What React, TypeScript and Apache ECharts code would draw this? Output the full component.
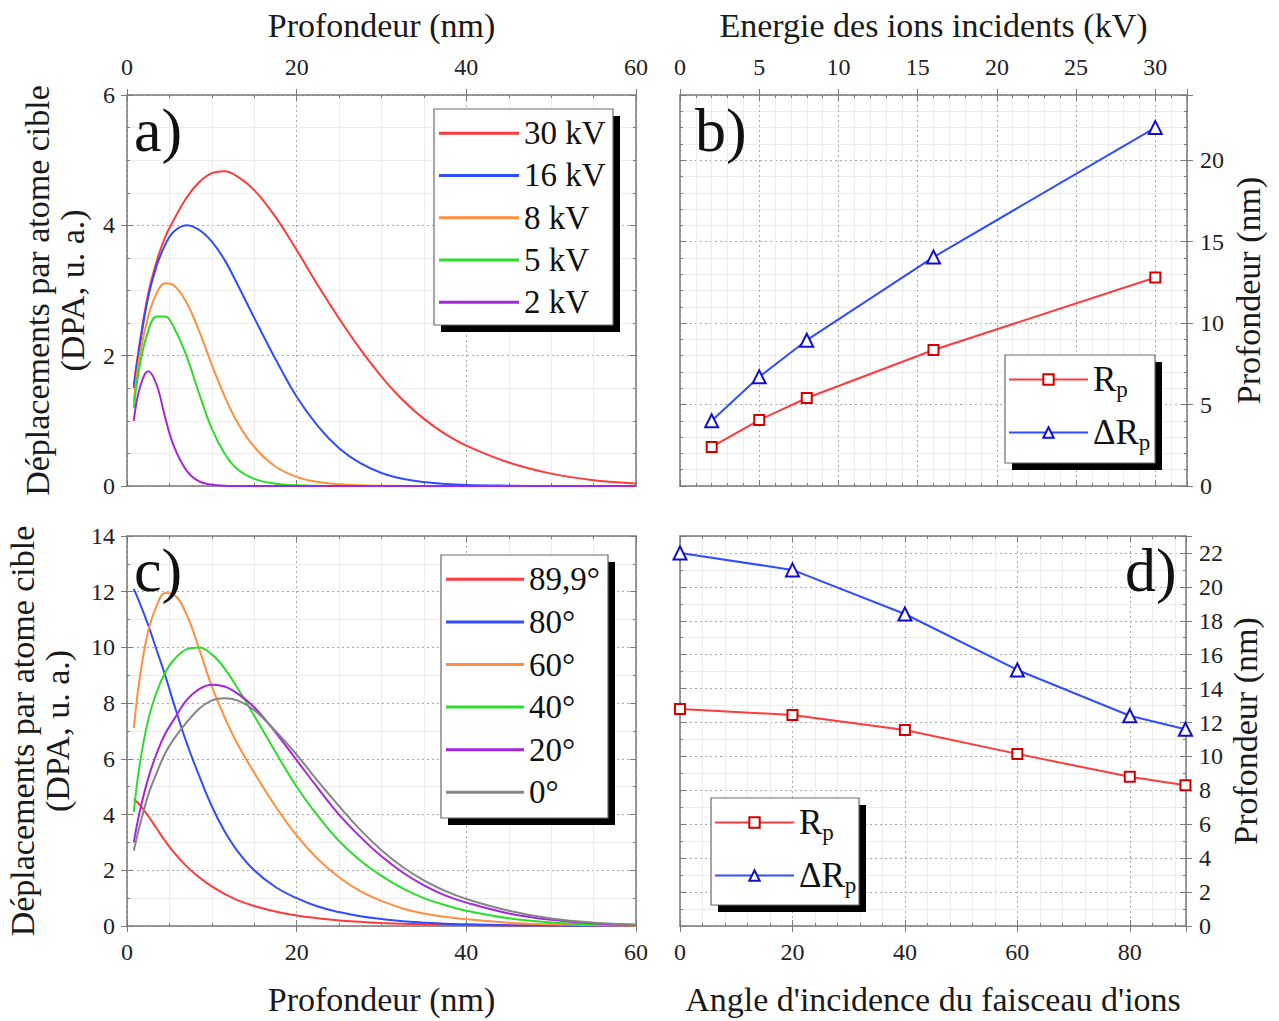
import React, { useEffect, useRef } from "react";
import * as echarts from "echarts";

// ---------- DATA ----------
const depth = [0.8, 1.5, 2.5, 3.5, 4.5, 5.5, 7, 8.5, 10, 11.5, 13, 15, 17.5, 20, 22.5, 25, 27.5, 30, 32.5, 35, 37.5, 40, 45, 50, 55, 60];

// panel a) energies
const dpa30kV = [1.55, 2.2, 2.95, 3.45, 3.82, 4.08, 4.42, 4.66, 4.8, 4.83, 4.75, 4.54, 4.13, 3.62, 3.08, 2.57, 2.1, 1.68, 1.32, 1.03, 0.8, 0.62, 0.36, 0.19, 0.09, 0.04];
const dpa16kV = [1.5, 2.15, 2.9, 3.38, 3.7, 3.9, 4.0, 3.93, 3.75, 3.47, 3.1, 2.58, 1.95, 1.37, 0.92, 0.58, 0.35, 0.2, 0.11, 0.06, 0.03, 0.015, 0.005, 0, 0, 0];
const dpa8kV = [1.3, 2.0, 2.6, 2.96, 3.11, 3.08, 2.82, 2.38, 1.86, 1.38, 0.98, 0.6, 0.3, 0.14, 0.06, 0.025, 0.01, 0.004, 0, 0, 0, 0, 0, 0, 0, 0];
const dpa5kV = [1.2, 1.85, 2.38, 2.6, 2.6, 2.44, 2.0, 1.42, 0.88, 0.5, 0.26, 0.11, 0.035, 0.01, 0.003, 0, 0, 0, 0, 0, 0, 0, 0, 0, 0, 0];
const dpa2kV = [1.0, 1.5, 1.76, 1.55, 1.05, 0.62, 0.24, 0.07, 0.02, 0.005, 0, 0, 0, 0, 0, 0, 0, 0, 0, 0, 0, 0, 0, 0, 0, 0];

// panel c) angles
const dpa89 = [4.55, 4.35, 3.95, 3.5, 3.05, 2.65, 2.15, 1.75, 1.42, 1.15, 0.93, 0.72, 0.52, 0.38, 0.28, 0.2, 0.15, 0.11, 0.08, 0.06, 0.045, 0.035, 0.02, 0.01, 0.005, 0.003];
const dpa80 = [12.1, 11.6, 10.8, 9.9, 9.0, 8.0, 6.6, 5.4, 4.3, 3.4, 2.7, 2.0, 1.4, 1.0, 0.7, 0.5, 0.35, 0.25, 0.17, 0.12, 0.08, 0.06, 0.03, 0.015, 0.01, 0.005];
const dpa60 = [7.1, 8.9, 10.6, 11.5, 11.95, 11.9, 11.2, 9.95, 8.6, 7.5, 6.55, 5.5, 4.3, 3.25, 2.4, 1.75, 1.25, 0.9, 0.63, 0.45, 0.33, 0.24, 0.12, 0.06, 0.03, 0.01];
const dpa40 = [4.1, 5.8, 7.4, 8.4, 9.1, 9.55, 9.93, 10.0, 9.75, 9.25, 8.55, 7.55, 6.25, 5.0, 3.95, 3.05, 2.35, 1.8, 1.35, 1.0, 0.75, 0.55, 0.28, 0.13, 0.06, 0.03];
const dpa20 = [3.0, 4.1, 5.3, 6.2, 6.9, 7.4, 8.1, 8.5, 8.66, 8.6, 8.35, 7.85, 6.95, 5.95, 4.95, 4.0, 3.2, 2.5, 1.92, 1.46, 1.1, 0.84, 0.45, 0.22, 0.1, 0.04];
const dpa0 = [2.7, 3.6, 4.7, 5.5, 6.2, 6.7, 7.3, 7.8, 8.1, 8.18, 8.1, 7.75, 7.0, 6.15, 5.2, 4.3, 3.45, 2.72, 2.12, 1.64, 1.26, 0.97, 0.55, 0.27, 0.12, 0.05];

// panel b)
const energies = [2, 5, 8, 16, 30];
const rpEnergy = [2.4, 4.05, 5.4, 8.35, 12.8];
const drpEnergy = [4.0, 6.7, 8.95, 14.05, 22.0];

// panel d)
const angles = [0, 20, 40, 60, 80, 89.9];
const rpAngle = [12.8, 12.45, 11.56, 10.15, 8.8, 8.3];
const drpAngle = [22.0, 21.0, 18.4, 15.1, 12.4, 11.6];

const energyNames = ["30 kV", "16 kV", "8 kV", "5 kV", "2 kV"];
const angleNames = ["89,9°", "80°", "60°", "40°", "20°", "0°"];

// ---------- STYLE ----------
const FONT = '"Liberation Serif", "Times New Roman", serif';
const RED = "#ff3a3a";
const BLUE = "#2f4dff";
const ORANGE = "#ff8f3f";
const GREEN = "#2bdc2b";
const PURPLE = "#a526dc";
const GRAY = "#858585";

const zip = (xs: number[], ys: number[]) => xs.map((x, i) => [x, ys[i]]);

const axisLineStyle = { color: "#7a7a7a", width: 1.5 };
const tickStyle = { color: "#7a7a7a", width: 1 };
const gridMajor = { color: "#a8a8a8", width: 1, type: [2, 3] as any };
const gridMinor = { color: "#ececec", width: 1 };
const labelStyle = { fontFamily: FONT, fontSize: 24, color: "#222" };
const titleStyle = { fontFamily: FONT, fontSize: 34, color: "#1a1a1a", lineHeight: 35 };

const OPP: any = { top: "bottom", bottom: "top", left: "right", right: "left" };

// returns [labelled axis, inner ticks axis, opposite frame axis]
function axisSet(o: any) {
  const base = { type: "value", gridIndex: o.grid, min: o.min, max: o.max, interval: o.interval };
  const main = {
    ...base,
    position: o.position,
    name: o.name,
    nameLocation: "middle",
    nameGap: o.nameGap,
    nameTextStyle: titleStyle,
    axisLine: { show: true, onZero: false, lineStyle: axisLineStyle },
    axisTick: { show: true, inside: false, length: 6, lineStyle: tickStyle },
    minorTick: { show: false, splitNumber: o.minor },
    axisLabel: {
      ...labelStyle,
      margin: o.margin,
      formatter: (v: number) => (o.labelStep && Math.round(v * 1000) % Math.round(o.labelStep * 1000) !== 0 ? "" : String(v)),
    },
    splitLine: { show: true, lineStyle: gridMajor },
    minorSplitLine: { show: true, lineStyle: gridMinor },
  };
  const inner = {
    ...base,
    position: o.position,
    axisLine: { show: false, onZero: false },
    axisTick: { show: true, inside: true, length: 6, lineStyle: tickStyle },
    minorTick: { show: true, splitNumber: o.minor, length: 3, lineStyle: tickStyle },
    axisLabel: { show: false },
    splitLine: { show: false },
    minorSplitLine: { show: false },
  };
  const frame = {
    ...base,
    position: OPP[o.position],
    axisLine: { show: true, onZero: false, lineStyle: axisLineStyle },
    axisTick: { show: true, inside: true, length: 6, lineStyle: tickStyle },
    minorTick: { show: true, splitNumber: o.minor, length: 3, lineStyle: tickStyle },
    axisLabel: { show: false },
    splitLine: { show: false },
    minorSplitLine: { show: false },
  };
  return [main, inner, frame];
}

function curve(name: string, color: string, data: number[], gi: number) {
  return {
    type: "line",
    name,
    xAxisIndex: gi * 3,
    yAxisIndex: gi * 3,
    data: zip(depth, data),
    smooth: 0.4,
    symbol: "none",
    lineStyle: { color, width: 2 },
    itemStyle: { color },
    z: 3,
  };
}

function points(name: string, lineColor: string, markColor: string, symbol: string, size: number, xs: number[], ys: number[], gi: number) {
  return {
    type: "line",
    name,
    xAxisIndex: gi * 3,
    yAxisIndex: gi * 3,
    data: zip(xs, ys),
    symbol,
    symbolSize: size,
    showSymbol: true,
    lineStyle: { color: lineColor, width: 2 },
    itemStyle: { color: markColor, borderColor: markColor, borderWidth: 2 },
    clip: false,
    z: 3,
  };
}

const subRich = {
  m: { fontFamily: FONT, fontSize: 35, color: "#111" },
  s: { fontFamily: FONT, fontSize: 23, color: "#111", padding: [20, 0, 0, 0] },
};
const rpFormatter = (name: string) => (name === "Rp" ? "{m|R}{s|p}" : "{m|ΔR}{s|p}");

function legendBox(x: number, y: number, w: number, h: number) {
  return [
    { type: "rect", z: 14, shape: { x: x + 7, y: y + 7, width: w, height: h }, style: { fill: "#000" } },
    { type: "rect", z: 15, shape: { x, y, width: w, height: h }, style: { fill: "#fff", stroke: "#6a6a6a", lineWidth: 1.2 } },
  ];
}

function panelLabel(text: string, x: number, y: number) {
  return {
    type: "text",
    z: 16,
    x,
    y,
    style: { text, font: `62px ${FONT}`, fill: "#111", textVerticalAlign: "middle" },
  };
}

export default function App() {
  const ref = useRef<HTMLDivElement>(null);

  useEffect(() => {
    if (!ref.current) return;
    const chart = echarts.init(ref.current, undefined, { renderer: "svg" });

    const option: any = {
      animation: false,
      backgroundColor: "#fff",
      grid: [
        { left: 127, top: 95, width: 509, height: 391 },
        { left: 680, top: 95, width: 507, height: 391 },
        { left: 127, top: 536, width: 509, height: 390 },
        { left: 680, top: 536, width: 506, height: 390 },
      ],
      xAxis: [
        ...axisSet({ grid: 0, position: "top", min: 0, max: 60, interval: 20, minor: 4, margin: 16, name: "Profondeur (nm)", nameGap: 52 }),
        ...axisSet({ grid: 1, position: "top", min: 0, max: 32, interval: 5, minor: 5, margin: 16, labelStep: 5, name: "Energie des ions incidents (kV)", nameGap: 52 }),
        ...axisSet({ grid: 2, position: "bottom", min: 0, max: 60, interval: 20, minor: 4, margin: 14, name: "Profondeur (nm)", nameGap: 56 }),
        ...axisSet({ grid: 3, position: "bottom", min: 0, max: 90, interval: 20, minor: 5, margin: 14, labelStep: 20, name: "Angle d'incidence du faisceau d'ions", nameGap: 56 }),
      ],
      yAxis: [
        ...axisSet({ grid: 0, position: "left", min: 0, max: 6, interval: 2, minor: 4, margin: 12, name: "Déplacements par atome cible\n(DPA, u. a.)", nameGap: 37 }),
        ...axisSet({ grid: 1, position: "right", min: 0, max: 24, interval: 5, minor: 5, margin: 13, labelStep: 5, name: "Profondeur (nm)", nameGap: 44 }),
        ...axisSet({ grid: 2, position: "left", min: 0, max: 14, interval: 2, minor: 2, margin: 12, name: "Déplacements par atome cible\n(DPA, u. a.)", nameGap: 52 }),
        ...axisSet({ grid: 3, position: "right", min: 0, max: 23, interval: 2, minor: 2, margin: 13, labelStep: 2, name: "Profondeur (nm)", nameGap: 42 }),
      ],
      legend: [
        {
          data: energyNames, orient: "vertical", left: 439, top: 112, itemGap: 0, itemWidth: 80, itemHeight: 3, icon: "rect", padding: 0,
          selectedMode: false, z: 20,
          textStyle: { fontFamily: FONT, fontSize: 33, color: "#111", lineHeight: 42.3 },
        },
        {
          data: angleNames, orient: "vertical", left: 446, top: 558, itemGap: 0, itemWidth: 78, itemHeight: 3, icon: "rect", padding: 0,
          selectedMode: false, z: 20,
          textStyle: { fontFamily: FONT, fontSize: 33, color: "#111", lineHeight: 42.6 },
        },
        {
          data: ["Rp", "ΔRp"], orient: "vertical", left: 1008, top: 353, itemGap: 0, itemWidth: 79, itemHeight: 13, padding: 0,
          selectedMode: false, z: 20, formatter: rpFormatter,
          textStyle: { fontFamily: FONT, fontSize: 35, color: "#111", lineHeight: 53, rich: subRich },
        },
        {
          data: ["Rp", "ΔRp"], orient: "vertical", left: 714, top: 796, itemGap: 0, itemWidth: 79, itemHeight: 13, padding: 0,
          selectedMode: false, z: 20, formatter: rpFormatter,
          textStyle: { fontFamily: FONT, fontSize: 35, color: "#111", lineHeight: 53, rich: subRich },
        },
      ],
      graphic: [
        ...legendBox(434, 109, 179, 216),
        ...legendBox(441, 555, 167, 263),
        ...legendBox(1005, 355, 150, 108),
        ...legendBox(711, 798, 148, 107),
        panelLabel("a)", 134, 130),
        panelLabel("b)", 695, 130),
        panelLabel("c)", 134, 570),
        panelLabel("d)", 1125, 570),
      ],
      series: [
        curve("30 kV", RED, dpa30kV, 0),
        curve("16 kV", BLUE, dpa16kV, 0),
        curve("8 kV", ORANGE, dpa8kV, 0),
        curve("5 kV", GREEN, dpa5kV, 0),
        curve("2 kV", PURPLE, dpa2kV, 0),
        points("Rp", RED, "#d40000", "emptyRect", 10, energies, rpEnergy, 1),
        points("ΔRp", BLUE, "#1010c8", "emptyTriangle", 13, energies, drpEnergy, 1),
        curve("89,9°", RED, dpa89, 2),
        curve("80°", BLUE, dpa80, 2),
        curve("60°", ORANGE, dpa60, 2),
        curve("40°", GREEN, dpa40, 2),
        curve("20°", PURPLE, dpa20, 2),
        curve("0°", GRAY, dpa0, 2),
        points("Rp", RED, "#d40000", "emptyRect", 10, angles, rpAngle, 3),
        points("ΔRp", BLUE, "#1010c8", "emptyTriangle", 13, angles, drpAngle, 3),
      ],
    };

    chart.setOption(option);
    return () => chart.dispose();
  }, []);

  return (
    <div
      ref={ref}
      style={{ position: "fixed", left: 0, top: 0, width: 1279, height: 1021, background: "#fff" }}
    />
  );
}
